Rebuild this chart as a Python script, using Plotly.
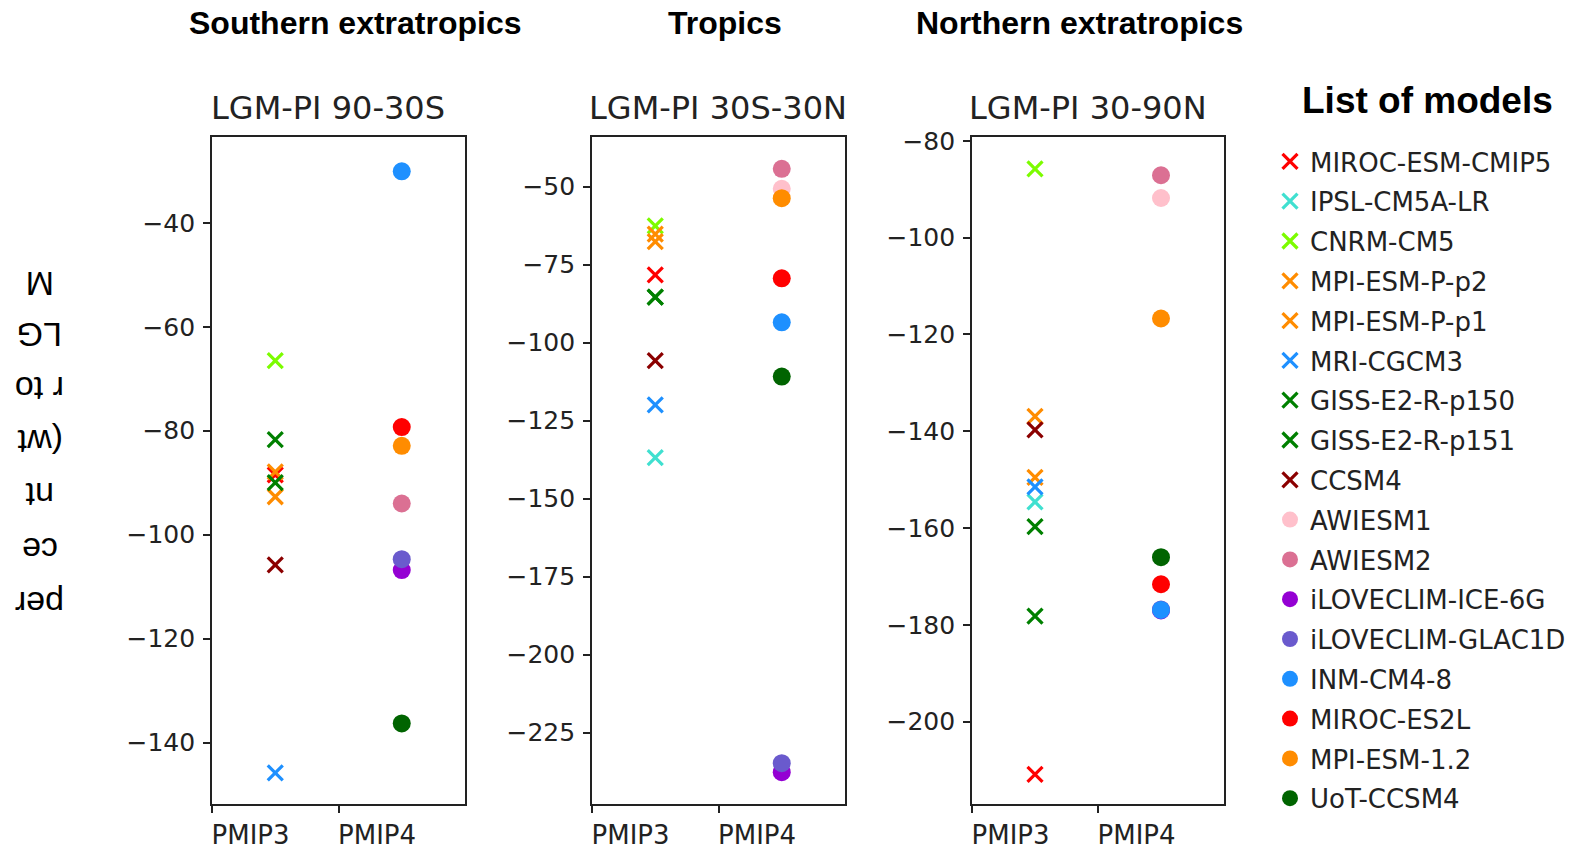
import plotly.graph_objects as go

# ---------------- data ----------------
models = ["MIROC-ESM-CMIP5", "IPSL-CM5A-LR", "CNRM-CM5", "MPI-ESM-P-p2", "MPI-ESM-P-p1",
          "MRI-CGCM3", "GISS-E2-R-p150", "GISS-E2-R-p151", "CCSM4",
          "AWIESM1", "AWIESM2", "iLOVECLIM-ICE-6G", "iLOVECLIM-GLAC1D", "INM-CM4-8",
          "MIROC-ES2L", "MPI-ESM-1.2", "UoT-CCSM4"]
generation = ["PMIP3"] * 9 + ["PMIP4"] * 8
colors = ["#ff0000", "#40e0d0", "#7cfc00", "#ff8c00", "#ff8c00",
          "#1e90ff", "#008000", "#008000", "#8b0000",
          "#ffc0cb", "#db7093", "#9400d3", "#6a5acd", "#1e90ff",
          "#ff0000", "#ff8c00", "#006400"]

south = [-88.5, None, -66.5, -87.9, -92.7, -145.8, -81.7, -90.0, -105.8,
         None, -94.0, -106.8, -104.7, -30.1, -79.3, -82.9, -136.3]
tropics = [-78.3, -136.9, -62.6, -65.2, -67.6, -120.0, -85.4, -85.4, -105.8,
           -50.7, -44.3, -237.7, -234.8, -93.5, -79.4, -53.7, -110.9]
north = [-210.9, -154.6, -85.8, -136.9, -149.5, -151.5, -159.7, -178.2, -139.7,
         -91.8, -87.1, -177.0, -176.8, -176.9, -171.6, -116.7, -166.0]

panel_titles = ["LGM-PI 90-30S", "LGM-PI 30S-30N", "LGM-PI 30-90N"]
region_titles = ["Southern extratropics", "Tropics", "Northern extratropics"]
tick_labels = ["PMIP3", "PMIP4"]
tick_positions = [0, 1]
group_pos = {"PMIP3": 0.5, "PMIP4": 1.5}
y_ranges = [[-151.8, -23.5], [-247.9, -34.1], [-217.0, -79.2]]
y_ticks = [[-140, -120, -100, -80, -60, -40],
           [-225, -200, -175, -150, -125, -100, -75, -50],
           [-200, -180, -160, -140, -120, -100, -80]]
ylabel_lines = ["per", "ce", "nt", "(wt", "r to", "LG", "M"]

# ---------------- layout geometry ----------------
W, H = 1573, 849
px = lambda v: v / W
py = lambda v: 1 - v / H
x_domains = [[px(212), px(465)], [px(592), px(845)], [px(972), px(1224)]]
y_domain = [py(804), py(137)]

fig = go.Figure()
panels = [south, tropics, north]
for p, vals in enumerate(panels):
    sfx = "" if p == 0 else str(p + 1)
    for i, m in enumerate(models):
        is_x = generation[i] == "PMIP3"
        if is_x:
            marker = dict(symbol="x-thin", size=15, color=colors[i],
                          line=dict(width=3.2, color=colors[i]))
        else:
            marker = dict(symbol="circle", size=18, color=colors[i],
                          line=dict(width=0))
        fig.add_trace(go.Scatter(
            x=[group_pos[generation[i]]], y=[vals[i]],
            mode="markers", marker=marker, name=m,
            legendgroup=m, showlegend=(p == 2),
            xaxis="x" + sfx, yaxis="y" + sfx, hoverinfo="name+y"))

ytickfont = dict(family="DejaVu Sans", size=25, color="#222222")
xtickfont = dict(family="DejaVu Sans", size=26, color="#222222")
layout = dict(width=W, height=H,
              margin=dict(l=0, r=0, t=0, b=0, pad=0, autoexpand=False),
              plot_bgcolor="white", paper_bgcolor="white",
              showlegend=True)
for p in range(3):
    sfx = "" if p == 0 else str(p + 1)
    layout["xaxis" + sfx] = dict(
        domain=x_domains[p], range=[0, 2], tickvals=tick_positions, ticktext=tick_labels,
        ticks="outside", ticklen=7, tickwidth=1.5, tickcolor="#222",
        ticklabelposition="outside right", ticklabelshift=-2, ticklabelstandoff=7,
        showline=True, linecolor="#222", linewidth=1.6, mirror=True,
        showgrid=False, zeroline=False, tickfont=xtickfont, automargin=False,
        anchor="y" + sfx, fixedrange=True)
    layout["yaxis" + sfx] = dict(
        domain=y_domain, range=y_ranges[p], tickvals=y_ticks[p],
        ticks="outside", ticklen=7, tickwidth=1.5, tickcolor="#222",
        ticklabelstandoff=3,
        showline=True, linecolor="#222", linewidth=1.6, mirror=True,
        showgrid=False, zeroline=False, tickfont=ytickfont, automargin=False,
        anchor="x" + sfx, fixedrange=True)

layout["legend"] = dict(
    x=px(1270), y=py(138), xanchor="left", yanchor="top",
    font=dict(family="DejaVu Sans", size=26, color="#222222"),
    tracegroupgap=3, itemclick=False, itemdoubleclick=False,
    bgcolor="rgba(0,0,0,0)")

annotations = []
title_centers = [328, 718, 1088]
region_centers = [355, 725, 1079]
for p in range(3):
    annotations.append(dict(
        text=panel_titles[p], x=px(title_centers[p]), y=py(108), xref="paper", yref="paper",
        showarrow=False, xanchor="center", yanchor="middle",
        font=dict(family="DejaVu Sans", size=32, color="#222222")))
    annotations.append(dict(
        text="<b>" + region_titles[p] + "</b>", x=px(region_centers[p]), y=py(23),
        xref="paper", yref="paper", showarrow=False, xanchor="center", yanchor="middle",
        font=dict(family="Liberation Sans", size=32, color="black")))
annotations.append(dict(
    text="<b>List of models</b>", x=px(1427), y=py(101), xref="paper", yref="paper",
    showarrow=False, xanchor="center", yanchor="middle",
    font=dict(family="Liberation Sans", size=37, color="black")))
ylab_y = [604, 550, 495, 442, 389, 335, 284]
for t, yy in zip(ylabel_lines, ylab_y):
    annotations.append(dict(
        text=t, x=px(40), y=py(yy), xref="paper", yref="paper", showarrow=False,
        xanchor="center", yanchor="middle", textangle=180,
        font=dict(family="Liberation Sans", size=34, color="black")))
layout["annotations"] = annotations

fig.update_layout(**layout)
fig.write_html("out.html", config={"displayModeBar": False},
               post_script="document.body.style.margin='0';document.body.style.overflow='hidden';")
